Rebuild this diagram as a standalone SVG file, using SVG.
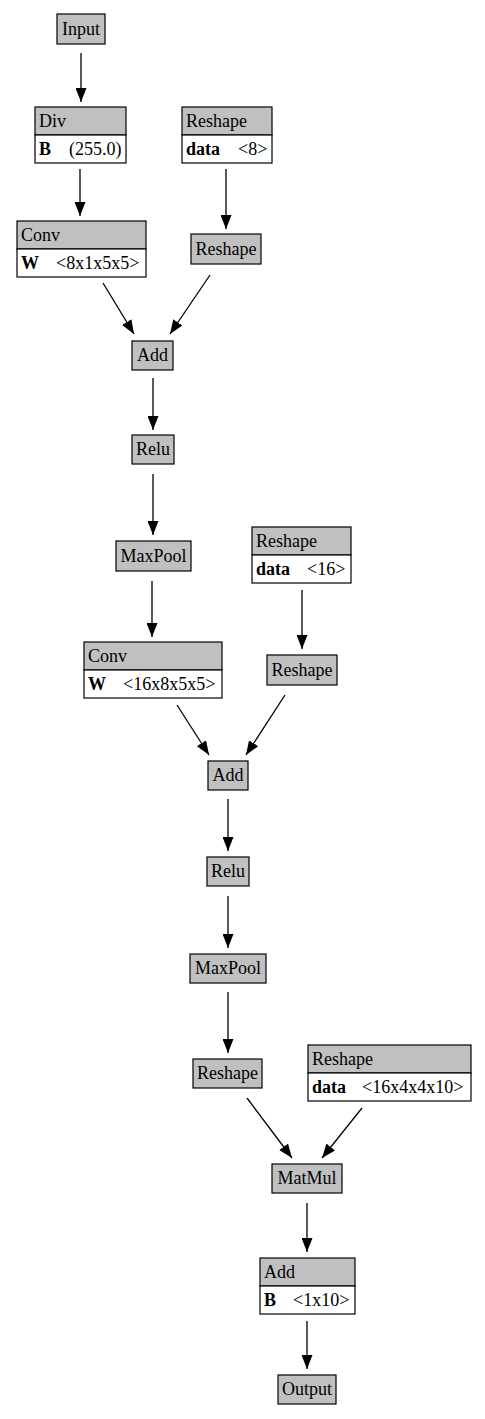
<svg xmlns="http://www.w3.org/2000/svg" width="485" height="1419" viewBox="0 0 485 1419">
<style>
.h{fill:#c0c0c0;stroke:#000;stroke-width:1.2}
.b{fill:#fff;stroke:#000;stroke-width:1.2}
text{font-family:"Liberation Serif","Times New Roman",serif;font-size:18px;fill:#000}
.c{text-anchor:middle}
.k{font-weight:bold}
.e{stroke:#000;stroke-width:1.3;fill:none}
</style>
<defs>
<marker id="a" markerWidth="14" markerHeight="11" refX="14" refY="5.5" orient="auto" markerUnits="userSpaceOnUse">
<path d="M0,0 L14,5.5 L0,11 Z" fill="#000"/>
</marker>
</defs>
<rect width="485" height="1419" fill="#fff"/>
<g id="connectors">
<line class="e" x1="81" y1="53" x2="81" y2="102" marker-end="url(#a)"/>
<line class="e" x1="80" y1="169" x2="80" y2="216" marker-end="url(#a)"/>
<line class="e" x1="226" y1="169" x2="226" y2="229" marker-end="url(#a)"/>
<line class="e" x1="103" y1="283" x2="134" y2="334" marker-end="url(#a)"/>
<line class="e" x1="210" y1="275" x2="170" y2="334" marker-end="url(#a)"/>
<line class="e" x1="153" y1="378" x2="153" y2="430" marker-end="url(#a)"/>
<line class="e" x1="153" y1="474" x2="153" y2="535" marker-end="url(#a)"/>
<line class="e" x1="152" y1="581" x2="152" y2="637" marker-end="url(#a)"/>
<line class="e" x1="302" y1="590" x2="302" y2="649" marker-end="url(#a)"/>
<line class="e" x1="177" y1="705" x2="209" y2="755" marker-end="url(#a)"/>
<line class="e" x1="285" y1="695" x2="246" y2="755" marker-end="url(#a)"/>
<line class="e" x1="228" y1="799" x2="228" y2="851" marker-end="url(#a)"/>
<line class="e" x1="228" y1="896" x2="228" y2="948" marker-end="url(#a)"/>
<line class="e" x1="228" y1="992" x2="228" y2="1053" marker-end="url(#a)"/>
<line class="e" x1="247" y1="1098" x2="292" y2="1158" marker-end="url(#a)"/>
<line class="e" x1="362" y1="1108" x2="322" y2="1158" marker-end="url(#a)"/>
<line class="e" x1="307" y1="1203" x2="307" y2="1252" marker-end="url(#a)"/>
<line class="e" x1="307" y1="1321" x2="307" y2="1369" marker-end="url(#a)"/>
</g>
<g id="input"><rect class="h" x="57" y="14" width="48" height="30"/><text class="c" x="81" y="35">Input</text></g>
<g id="div"><rect class="h" x="35" y="107" width="91" height="28"/><rect class="b" x="35" y="135" width="91" height="28"/><text x="39" y="127">Div</text><text x="39" y="155"><tspan class="k">B</tspan><tspan x="69">(255.0)</tspan></text></g>
<g id="reshape1"><rect class="h" x="182" y="107" width="90" height="28"/><rect class="b" x="182" y="135" width="90" height="28"/><text x="186" y="127">Reshape</text><text x="186" y="155"><tspan class="k">data</tspan><tspan x="238">&lt;8&gt;</tspan></text></g>
<g id="conv1"><rect class="h" x="17" y="221" width="129" height="28"/><rect class="b" x="17" y="249" width="129" height="28"/><text x="21" y="241">Conv</text><text x="21" y="269"><tspan class="k">W</tspan><tspan x="56">&lt;8x1x5x5&gt;</tspan></text></g>
<g id="reshape2"><rect class="h" x="191" y="234" width="70" height="30"/><text class="c" x="226" y="255">Reshape</text></g>
<g id="add1"><rect class="h" x="132" y="341" width="41" height="29"/><text class="c" x="152.5" y="361">Add</text></g>
<g id="relu1"><rect class="h" x="132" y="435" width="42" height="29"/><text class="c" x="153" y="455">Relu</text></g>
<g id="maxpool1"><rect class="h" x="116" y="541" width="75" height="30"/><text class="c" x="153.5" y="562">MaxPool</text></g>
<g id="reshape3"><rect class="h" x="252" y="527" width="99" height="28"/><rect class="b" x="252" y="555" width="99" height="28"/><text x="256" y="547">Reshape</text><text x="256" y="575"><tspan class="k">data</tspan><tspan x="307">&lt;16&gt;</tspan></text></g>
<g id="conv2"><rect class="h" x="84" y="642" width="138" height="28"/><rect class="b" x="84" y="670" width="138" height="28"/><text x="88" y="662">Conv</text><text x="88" y="690"><tspan class="k">W</tspan><tspan x="123">&lt;16x8x5x5&gt;</tspan></text></g>
<g id="reshape4"><rect class="h" x="267" y="655" width="70" height="30"/><text class="c" x="302" y="676">Reshape</text></g>
<g id="add2"><rect class="h" x="208" y="761" width="40" height="29"/><text class="c" x="228" y="781">Add</text></g>
<g id="relu2"><rect class="h" x="207" y="857" width="42" height="29"/><text class="c" x="228" y="877">Relu</text></g>
<g id="maxpool2"><rect class="h" x="190" y="954" width="76" height="29"/><text class="c" x="228" y="974">MaxPool</text></g>
<g id="reshape5"><rect class="h" x="193" y="1059" width="69" height="29"/><text class="c" x="227.5" y="1079">Reshape</text></g>
<g id="reshape6"><rect class="h" x="308" y="1045" width="163" height="28"/><rect class="b" x="308" y="1073" width="163" height="28"/><text x="312" y="1065">Reshape</text><text x="312" y="1093"><tspan class="k">data</tspan><tspan x="362">&lt;16x4x4x10&gt;</tspan></text></g>
<g id="matmul"><rect class="h" x="272" y="1164" width="70" height="29"/><text class="c" x="307" y="1184">MatMul</text></g>
<g id="add3"><rect class="h" x="260" y="1258" width="95" height="28"/><rect class="b" x="260" y="1286" width="95" height="28"/><text x="264" y="1278">Add</text><text x="264" y="1306"><tspan class="k">B</tspan><tspan x="293">&lt;1x10&gt;</tspan></text></g>
<g id="output"><rect class="h" x="278" y="1375" width="58" height="29"/><text class="c" x="307" y="1395">Output</text></g>
</svg>
